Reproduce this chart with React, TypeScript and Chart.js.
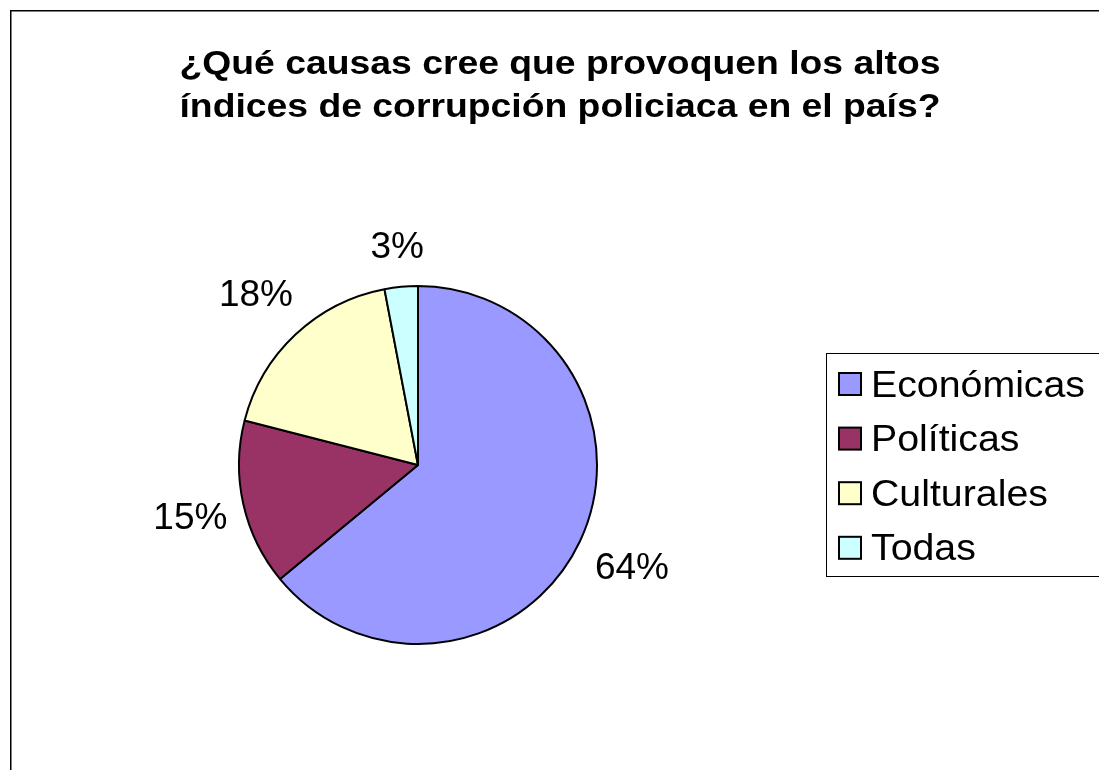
import React, { useEffect, useRef } from "react";
import { Chart, registerables } from "chart.js";

Chart.register(...registerables);

const categories = ["Económicas", "Políticas", "Culturales", "Todas"];
const values = [64, 15, 18, 3];
const colors = ["#9999FF", "#993366", "#FFFFCC", "#CCFFFF"];
const titleLines = [
  "¿Qué causas cree que provoquen los altos",
  "índices de corrupción policiaca en el país?",
];

const FONT = "'Liberation Sans', Arial, Helvetica, sans-serif";

const framePlugin = {
  id: "frame",
  beforeDraw(chart: any) {
    const ctx = chart.ctx;
    ctx.save();
    ctx.fillStyle = "#ffffff";
    ctx.fillRect(0, 0, chart.width, chart.height);
    ctx.strokeStyle = "#000000";
    ctx.lineWidth = 1.5;
    ctx.strokeRect(10.75, 10.75, 1200, 1000);
    ctx.restore();
  },
};

const titlePlugin = {
  id: "stretchedTitle",
  afterDraw(chart: any) {
    const ctx = chart.ctx;
    ctx.save();
    ctx.fillStyle = "#000000";
    ctx.font = `bold 34px ${FONT}`;
    ctx.textAlign = "center";
    ctx.textBaseline = "alphabetic";
    const sx = 761 / ctx.measureText(titleLines[0]).width;
    const baselines = [74, 117];
    titleLines.forEach((line, i) => {
      ctx.save();
      ctx.translate(560, baselines[i]);
      ctx.scale(sx, 1);
      ctx.fillText(line, 0, 0);
      ctx.restore();
    });
    ctx.restore();
  },
};

const labelPlugin = {
  id: "pctLabels",
  afterDatasetsDraw(chart: any) {
    const ctx = chart.ctx;
    const meta = chart.getDatasetMeta(0);
    const data = chart.data.datasets[0].data as number[];
    const total = data.reduce((a, b) => a + b, 0);
    const size = 37;
    ctx.save();
    ctx.fillStyle = "#000000";
    ctx.font = `${size}px ${FONT}`;
    ctx.textAlign = "center";
    ctx.textBaseline = "alphabetic";
    meta.data.forEach((arc: any, i: number) => {
      const p = arc.getProps(["startAngle", "endAngle", "outerRadius", "x", "y"], true);
      const mid = (p.startAngle + p.endAngle) / 2;
      const c = Math.cos(mid);
      const s = Math.sin(mid);
      const text = Math.round((data[i] / total) * 100) + "%";
      const w = ctx.measureText(text).width;
      const d = p.outerRadius + 12 + Math.abs(c) * (w / 2) + Math.abs(s) * 28;
      const cx = p.x + c * d;
      const cy = p.y + s * d;
      ctx.fillText(text, cx, cy + 0.358 * size);
    });
    ctx.restore();
  },
};

const legendPlugin = {
  id: "boxedLegend",
  afterDraw(chart: any) {
    const ctx = chart.ctx;
    const labels = chart.data.labels as string[];
    const bg = chart.data.datasets[0].backgroundColor as string[];
    ctx.save();
    ctx.strokeStyle = "#000000";
    ctx.lineWidth = 1;
    ctx.strokeRect(826.5, 353.5, 400, 223);
    ctx.font = `36px ${FONT}`;
    ctx.textAlign = "left";
    ctx.textBaseline = "alphabetic";
    const sx = 214 / ctx.measureText(labels[0]).width;
    labels.forEach((lab, i) => {
      const cy = 384 + i * 54.6;
      ctx.fillStyle = bg[i];
      ctx.fillRect(839, cy - 11, 22, 22);
      ctx.lineWidth = 2;
      ctx.strokeStyle = "#000000";
      ctx.strokeRect(839, cy - 11, 22, 22);
      ctx.fillStyle = "#000000";
      ctx.save();
      ctx.translate(871, cy + 12.5);
      ctx.scale(sx, 1);
      ctx.fillText(lab, 0, 0);
      ctx.restore();
    });
    ctx.restore();
  },
};

export default function App() {
  const ref = useRef<HTMLCanvasElement>(null);
  useEffect(() => {
    const chart = new Chart(ref.current as HTMLCanvasElement, {
      type: "pie",
      data: {
        labels: categories,
        datasets: [
          {
            data: values,
            backgroundColor: colors,
            borderColor: "#000000",
            borderWidth: 2,
          },
        ],
      },
      options: {
        responsive: false,
        animation: false,
        events: [],
        radius: 179,
        layout: { padding: { left: 238, right: 501, top: 285, bottom: 125 } },
        plugins: {
          legend: { display: false },
          title: { display: false },
          tooltip: { enabled: false },
        },
      } as any,
      plugins: [framePlugin, titlePlugin, labelPlugin, legendPlugin],
    });
    return () => chart.destroy();
  }, []);
  return (
    <div
      style={{
        position: "fixed",
        left: 0,
        top: 0,
        width: 1099,
        height: 770,
        overflow: "hidden",
        background: "#ffffff",
      }}
    >
      <canvas ref={ref} width={1099} height={770} style={{ display: "block", width: 1099, height: 770 }} />
    </div>
  );
}
